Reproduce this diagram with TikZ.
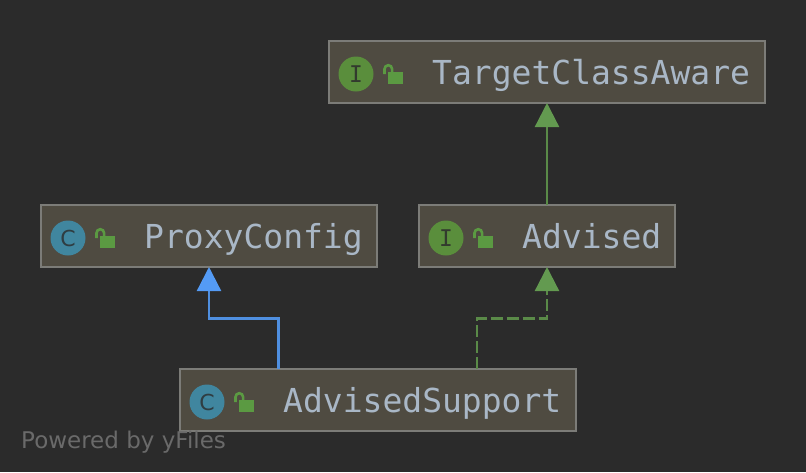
\documentclass[tikz,border=0pt]{standalone}
\usepackage{fontspec}
\setmainfont{DejaVu Sans}
\newfontfamily\monofont{DejaVu Sans Mono}
\newfontfamily\iconfont{DejaVu Sans Mono}
\usetikzlibrary{arrows.meta,calc}
\definecolor{bgc}{HTML}{2B2B2B}
\definecolor{boxfill}{HTML}{4F4B41}
\definecolor{boxline}{HTML}{7C7C78}
\definecolor{txt}{HTML}{A9B7C6}
\definecolor{igreen}{HTML}{5A8E3C}
\definecolor{lockgreen}{HTML}{5B9A42}
\definecolor{iteal}{HTML}{40869F}
\definecolor{blueline}{HTML}{4F8FE0}
\definecolor{bluehead}{HTML}{549BF5}
\definecolor{greenline}{HTML}{5A8A48}
\definecolor{greenhead}{HTML}{639A50}
\definecolor{wm}{HTML}{6A6A6A}
\tikzset{
  x=1pt,y=-1pt,
  classbox/.style={draw=boxline,fill=boxfill,line width=2.2pt,minimum height=62pt,inner sep=0pt,outer sep=0pt},
  label/.style={text=txt,font=\monofont\fontsize{33}{33}\selectfont,inner sep=0pt,anchor=base west},
  icon/.style={circle,minimum size=35pt,inner sep=0pt},
  iface/.style={icon,fill=igreen,text=bgc!85!igreen,font=\iconfont\fontsize{23}{23}\selectfont},
  klass/.style={icon,fill=iteal,text=bgc!80!iteal,font=\fontsize{22}{22}\selectfont},
  extends/.style={draw=blueline,line width=2.3pt,-{Triangle[length=24pt,width=24pt,fill=bluehead,color=bluehead]}},
  implements/.style={draw=greenline,line width=2.3pt,-{Triangle[length=24pt,width=24pt,fill=greenhead,color=greenhead]}},
  dashedlink/.style={dash pattern=on 12pt off 4pt}
}
\newcommand{\lockat}[1]{%
  \fill[lockgreen] ($(#1)+(-6,-3)$) rectangle ($(#1)+(9,9)$);
  \draw[lockgreen,line width=2.6pt] ($(#1)+(-9.5,-1)$) -- ($(#1)+(-9.5,-6)$) arc[start angle=180,end angle=0,x radius=3.8pt,y radius=3.8pt] -- ($(#1)+(-1.9,-3)$);
}
\begin{document}
\begin{tikzpicture}
\useasboundingbox (0,0) rectangle (806,472);
\fill[bgc] (0,0) rectangle (806,472);

\node[classbox,minimum width=436pt] (tca) at (547,72) {};
\node[classbox,minimum width=336pt] (pc) at (209,236) {};
\node[classbox,minimum width=256pt] (adv) at (547,236) {};
\node[classbox,minimum width=396pt] (as) at (378,400) {};

\node[iface] (tcai) at (356,74) {I};
\node[klass] (pci) at (68,238) {C};
\node[iface] (advi) at (446,238) {I};
\node[klass] (asi) at (207,402) {C};

\coordinate (tcal) at (394,75);
\coordinate (pcl) at (106,239);
\coordinate (advl) at (484,239);
\coordinate (asl) at (245,403);
\lockat{tcal}\lockat{pcl}\lockat{advl}\lockat{asl}

\node[label] (tcat) at (432,84) {TargetClassAware};
\node[label] (pct) at (144,248) {ProxyConfig};
\node[label] (advt) at (522,248) {Advised};
\node[label] (ast) at (283,412) {AdvisedSupport};

\node[text=wm,font=\fontsize{23}{24}\selectfont,inner sep=0pt,anchor=base west] (wm) at (21,448) {Powered by yFiles};

\draw[implements] (adv.north) -- (tca.south);
\draw[extends] ($(as.north)+(-99.5,0)$) |- (209,318.5) -- (pc.south);
\draw[implements,dashedlink] ($(as.north)+(99,0)$) |- (547,318.5) -- (adv.south);
\end{tikzpicture}
\end{document}
